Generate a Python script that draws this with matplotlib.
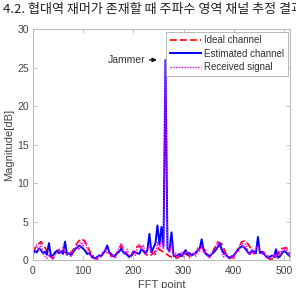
import numpy as np
import matplotlib
matplotlib.use('Agg')
import matplotlib.pyplot as plt

# Values (magnitude in dB)
x_ideal = np.arange(0, 513, 8)
ideal = [1.0, 1.9, 2.4, 1.7, 0.6, 0.2, 1.2, 1.5,
         1.0, 0.7, 1.3, 2.2, 2.8, 2.4, 1.3, 0.4,
         0.1, 0.5, 1.2, 0.9, 0.3, 1.0, 1.9, 1.1,
         0.3, 0.8, 1.8, 1.7, 0.8, 0.5, 0.9, 1.5,
         1.2, 0.9, 0.5, 0.3, 0.3, 0.6, 0.8, 0.5,
         0.7, 1.3, 1.7, 1.1, 0.4, 1.3, 2.3, 2.1,
         0.9, 0.2, 0.4, 1.4, 2.4, 2.5, 1.7, 0.8,
         1.2, 1.1, 0.5, 0.1, 0.2, 0.8, 1.5, 1.6,
         0.8]

x_est = np.arange(0, 513, 4)
estimated = [0.8, 1.2, 1.0, 1.5, 1.3, 0.9, 1.1, 0.7,
             2.2, 0.5, 0.6, 1.0, 1.2, 0.9, 1.1, 0.8,
             2.4, 0.7, 0.9, 0.6, 1.0, 1.4, 1.6, 1.9,
             1.7, 1.5, 1.2, 0.8, 0.9, 0.6, 0.3, 0.2,
             0.4, 0.6, 0.5, 0.9, 1.2, 1.9, 1.0, 0.8,
             0.5, 0.6, 0.9, 1.1, 1.5, 1.0, 0.8, 0.7,
             0.4, 0.6, 1.1, 1.0, 0.9, 0.8, 1.4, 1.2,
             0.9, 1.3, 3.4, 1.0, 1.6, 2.2, 4.5, 2.0,
             4.3, 1.8, 26.0, 1.5, 1.2, 3.6, 0.6, 0.5,
             0.6, 0.8, 0.5, 0.9, 1.3, 0.7, 0.9, 0.6,
             0.8, 0.9, 1.2, 1.5, 2.7, 1.3, 0.8, 0.6,
             0.5, 0.8, 1.0, 1.3, 1.7, 2.2, 1.4, 0.9,
             0.7, 0.4, 0.3, 0.5, 0.6, 1.0, 1.3, 1.6,
             1.8, 1.7, 1.4, 1.0, 0.8, 1.2, 1.1, 0.9,
             3.0, 0.9, 1.0, 0.8, 0.5, 0.3, 0.4, 0.6,
             0.4, 1.4, 0.3, 0.5, 0.9, 1.2, 1.0, 0.7,
             0.5]

x_rx = np.arange(0, 513, 4)
received = [0.9, 1.6, 2.0, 1.2, 2.1, 1.0, 0.5, 0.2,
            0.8, 0.3, 0.1, 0.6, 1.0, 1.4, 0.9, 1.7,
            1.1, 0.6, 0.9, 0.4, 1.2, 1.5, 2.0, 1.3,
            2.3, 1.8, 2.6, 1.4, 1.0, 0.3, 0.6, 0.1,
            0.2, 0.7, 0.4, 1.1, 1.5, 0.8, 1.0, 0.4,
            0.6, 0.2, 0.9, 1.8, 2.2, 1.2, 0.7, 1.4,
            0.3, 0.5, 1.2, 0.6, 1.6, 2.1, 1.3, 2.0,
            0.6, 1.1, 1.9, 0.7, 1.0, 0.6, 2.3, 1.2,
            2.6, 1.4, 26.0, 1.8, 0.9, 2.2, 0.4, 0.9,
            0.2, 0.7, 1.1, 0.4, 0.9, 1.2, 0.3, 0.6,
            1.0, 0.5, 1.6, 1.1, 2.0, 0.9, 1.3, 0.5,
            0.2, 0.9, 1.5, 1.9, 2.4, 1.6, 1.0, 0.4,
            0.9, 0.3, 0.1, 0.6, 0.2, 1.1, 1.0, 1.9,
            2.3, 1.6, 2.1, 1.2, 0.6, 1.4, 0.8, 1.5,
            1.9, 1.1, 0.7, 1.2, 0.3, 0.6, 0.1, 0.4,
            0.7, 0.3, 1.2, 0.6, 1.5, 1.1, 1.8, 0.9,
            0.3]

labels = ['Ideal channel', 'Estimated channel', 'Received signal']
title = '4.2. 협대역 재머가 존재할 때 주파수 영역 채널 추정 결과'

plt.rcParams['font.family'] = ['Liberation Sans', 'DejaVu Sans']

fig = plt.figure(figsize=(2.96, 2.88), dpi=100)
ax = fig.add_axes([0.111, 0.097, 0.869, 0.802])

ax.plot(x_ideal, ideal, color='#ff0000', ls=(0, (4, 2)), lw=1.2, label=labels[0])
ax.plot(x_est, estimated, color='#0000ff', ls='-', lw=1.4, label=labels[1])
ax.plot(x_rx, received, color='#ff00ff', ls=(0, (1, 1)), lw=1.0, label=labels[2])

ax.set_xlim(0, 512)
ax.set_ylim(0, 30)
ax.set_xticks(range(0, 501, 100))
ax.set_yticks(range(0, 31, 5))
ax.tick_params(direction='in', length=3, width=0.6, colors='#bbbbbb',
               labelcolor='#444444', labelsize=7.5, top=True, right=True)
ax.tick_params(axis='x', pad=4.5)
ax.tick_params(axis='y', pad=3)
for s in ax.spines.values():
    s.set_color('#bbbbbb')
    s.set_linewidth(0.8)

ax.set_xlabel('FFT point', fontsize=8, color='#444444', labelpad=3)
ax.set_ylabel('Magnitude[dB]', fontsize=8, color='#444444', labelpad=2)

# Jammer 표시
ax.annotate('Jammer', xy=(247, 26), xytext=(224, 26), ha='right', va='center',
            fontsize=7.5, color='#333333',
            arrowprops=dict(arrowstyle='-|>', color='#111111', lw=1.0,
                            mutation_scale=6, shrinkA=1, shrinkB=0))

leg = ax.legend(loc='upper right', fontsize=7, frameon=True, fancybox=False,
                borderaxespad=0.25, handlelength=3.2, handletextpad=0.3,
                labelspacing=0.35, borderpad=0.4)
leg.get_frame().set_edgecolor('#999999')
leg.get_frame().set_linewidth(0.6)
for t in leg.get_texts():
    t.set_color('#333333')

fig.text(0.01, 0.99, title, ha='left', va='top', fontsize=9.4, color='#222222',
         family=['Noto Sans CJK KR', 'DejaVu Sans'])

fig.savefig('out.png', dpi=100)
